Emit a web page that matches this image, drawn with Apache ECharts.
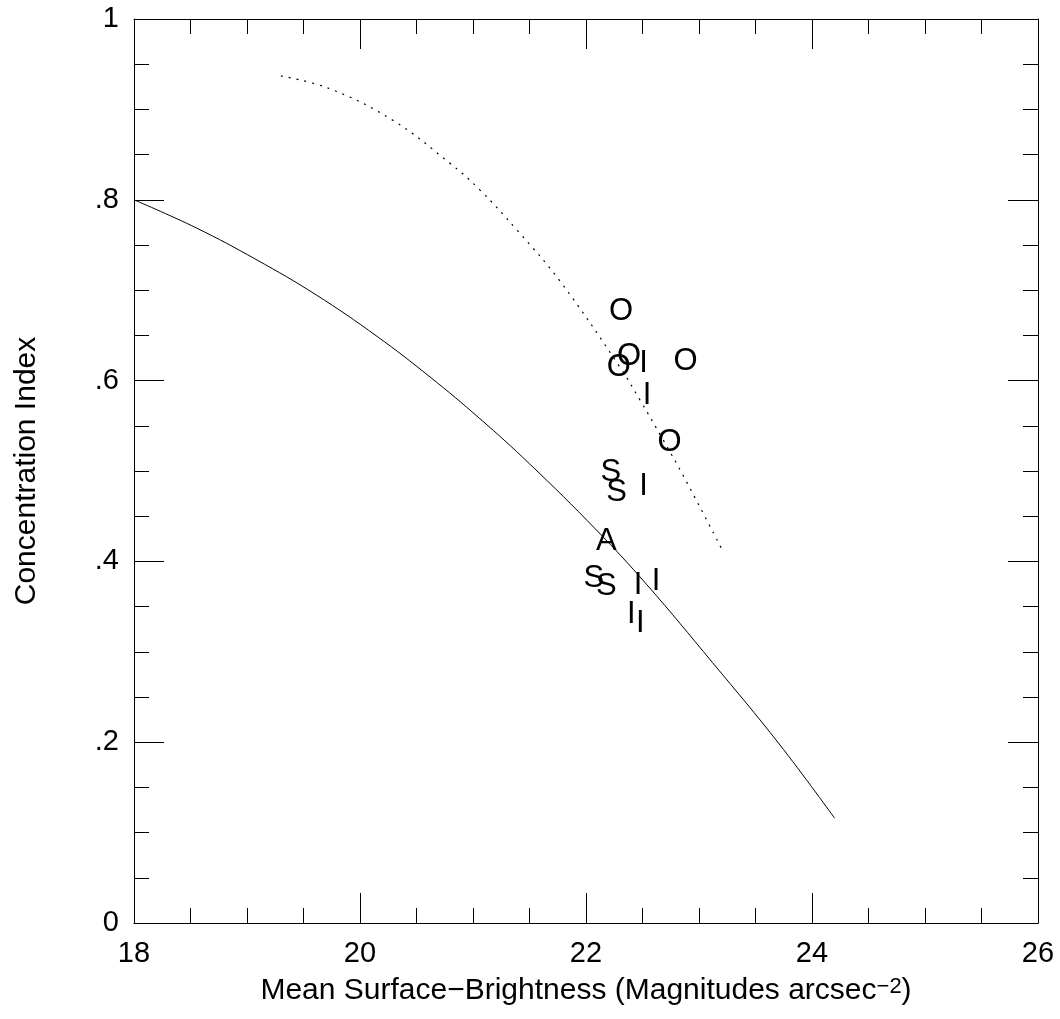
<!DOCTYPE html>
<html>
<head>
<meta charset="utf-8">
<title>Concentration Index vs Mean Surface-Brightness</title>
<script src="https://cdn.jsdelivr.net/npm/echarts@6/dist/echarts.min.js"></script>
<style>
  html, body { margin: 0; padding: 0; background: #fff; }
  #chart { width: 1060px; height: 1019px; }
</style>
</head>
<body>
<div id="chart"></div>
<script>
// Solid relation (lower curve)
const solidX = [18.0, 18.55, 19.08, 19.61, 20.15, 20.62, 21.06, 21.50, 22.09, 22.54, 23.12, 23.71, 24.20];
const solidY = [0.800, 0.769, 0.734, 0.695, 0.649, 0.604, 0.558, 0.508, 0.435, 0.374, 0.288, 0.198, 0.116];

// Dotted relation (upper curve)
const dottedX = [19.30, 19.73, 20.29, 20.79, 21.06, 21.40, 21.77, 22.30, 22.48, 22.68, 22.86, 23.20];
const dottedY = [0.937, 0.923, 0.888, 0.841, 0.811, 0.765, 0.710, 0.615, 0.578, 0.535, 0.495, 0.414];

// Galaxies, plotted with their type letter: [surface brightness, concentration]
const typeO = [[22.31, 0.676], [22.38, 0.627], [22.29, 0.614], [22.88, 0.621], [22.74, 0.532]];
const typeI = [[22.51, 0.619], [22.54, 0.584], [22.51, 0.483], [22.46, 0.373], [22.62, 0.378], [22.40, 0.341], [22.48, 0.331]];
const typeS = [[22.22, 0.498], [22.27, 0.476], [22.07, 0.381], [22.18, 0.372]];
const typeA = [[22.18, 0.422]];

// Axis ranges and tick labels
const xMin = 18, xMax = 26, xStep = 2;
const yMin = 0, yMax = 1, yStep = 0.2;
const yTickLabels = { '0': '0', '0.2': '.2', '0.4': '.4', '0.6': '.6', '0.8': '.8', '1': '1' };

const FONT = '"Liberation Sans", Arial, Helvetica, sans-serif';
const INK = '#000';

function pairs(xs, ys) { return xs.map((x, i) => [x, ys[i]]); }

function frameAxis(extra) {
  return Object.assign({
    type: 'value',
    axisLine: { show: true, onZero: false, lineStyle: { color: INK, width: 1 } },
    axisTick: { show: true, inside: true, length: 30, lineStyle: { color: INK, width: 1 } },
    minorTick: { show: true, splitNumber: 4, length: 15, lineStyle: { color: INK, width: 1 } },
    splitLine: { show: false },
    minorSplitLine: { show: false }
  }, extra);
}

// Each galaxy is drawn as its type letter centred on its data position
function letterSeries(letter, data) {
  return {
    type: 'custom',
    data: data,
    silent: true,
    z: 5,
    renderItem: function (params, api) {
      const p = api.coord([api.value(0), api.value(1)]);
      return {
        type: 'text',
        x: p[0],
        y: p[1],
        style: {
          text: letter,
          fill: INK,
          font: '31px ' + FONT,
          align: 'center',
          verticalAlign: 'middle'
        }
      };
    }
  };
}

function curveSeries(xs, ys, lineStyle) {
  return {
    type: 'line',
    data: pairs(xs, ys),
    showSymbol: false,
    smooth: 0.4,
    lineStyle: lineStyle,
    emphasis: { disabled: true },
    silent: true
  };
}

const chart = echarts.init(document.getElementById('chart'), null, { renderer: 'canvas' });

chart.setOption({
  animation: false,
  backgroundColor: '#fff',
  grid: { left: 134, top: 19, width: 904, height: 904, containLabel: false },
  xAxis: [
    frameAxis({
      position: 'bottom',
      min: xMin, max: xMax, interval: xStep,
      axisLabel: { show: true, margin: 16, color: INK, fontFamily: FONT, fontSize: 29 },
      name: 'Mean Surface\u2212Brightness (Magnitudes arcsec{sup|\u22122})',
      nameLocation: 'middle',
      nameGap: 53,
      nameTextStyle: {
        color: INK, fontFamily: FONT, fontSize: 30, lineHeight: 30,
        rich: { sup: { color: INK, fontFamily: FONT, fontSize: 22, lineHeight: 16, verticalAlign: 'top' } }
      }
    }),
    frameAxis({
      position: 'top',
      min: xMin, max: xMax, interval: xStep,
      axisLabel: { show: false }
    })
  ],
  yAxis: [
    frameAxis({
      position: 'left',
      min: yMin, max: yMax, interval: yStep,
      axisLabel: {
        show: true, margin: 15, color: INK, fontFamily: FONT, fontSize: 29,
        formatter: v => yTickLabels[String(+v.toFixed(2))] ?? String(v)
      },
      name: 'Concentration Index',
      nameLocation: 'middle',
      nameRotate: 90,
      nameGap: 92,
      nameTextStyle: { color: INK, fontFamily: FONT, fontSize: 30 }
    }),
    frameAxis({
      position: 'right',
      min: yMin, max: yMax, interval: yStep,
      axisLabel: { show: false }
    })
  ],
  series: [
    curveSeries(solidX, solidY, { color: INK, width: 1 }),
    curveSeries(dottedX, dottedY, { color: INK, width: 1.2, type: [2, 6] }),
    letterSeries('O', typeO),
    letterSeries('I', typeI),
    letterSeries('S', typeS),
    letterSeries('A', typeA)
  ]
});
</script>
</body>
</html>
